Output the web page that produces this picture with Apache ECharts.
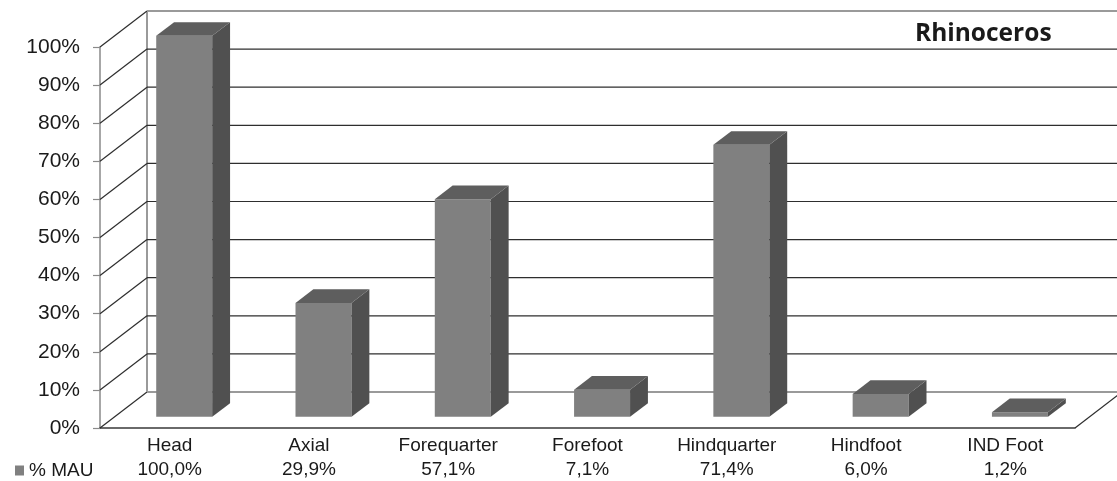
<!DOCTYPE html>
<html>
<head>
<meta charset="utf-8">
<style>html,body{margin:0;padding:0;background:#fff}#chart{width:1117px;height:481px}</style>
<script src="https://cdn.jsdelivr.net/npm/echarts@6/dist/echarts.min.js"></script>
</head>
<body>
<div id="chart"></div>
<script>
// Body-part representation for rhinoceros, drawn as a pseudo-3D column chart.
const categories = ['Head', 'Axial', 'Forequarter', 'Forefoot', 'Hindquarter', 'Hindfoot', 'IND Foot'];
const mauValues = [100.0, 29.9, 57.1, 7.1, 71.4, 6.0, 1.2];
const gridLevels = [0, 10, 20, 30, 40, 50, 60, 70, 80, 90, 100];

// Projection of the chart's depth direction, in pixels.
const depthX = 47;
const depthY = -36;
// Where a column sits along the depth direction (0 = front, 1 = back wall).
const columnFront = 0.31;
const columnBack = 0.69;
// Column face width as a share of one category band.
const columnShare = 0.402;

const formatPct = v => v.toFixed(1).replace('.', ',') + '%';

function renderWalls(params, api) {
  const level = api.value(1);
  const cs = params.coordSys;
  const y = api.coord([0, level])[1];
  const xL = cs.x, xR = cs.x + cs.width;
  const edge = level === 0 || level === 100;
  const backLine = { stroke: edge ? '#9a9a9a' : '#2e2e2e', lineWidth: edge ? 2 : 1.2 };
  const children = [
    { type: 'line', shape: { x1: xL, y1: y, x2: xL + depthX, y2: y + depthY },
      style: { stroke: '#2e2e2e', lineWidth: 1.2 } },
    { type: 'line', shape: { x1: xL + depthX, y1: y + depthY, x2: xR + depthX, y2: y + depthY },
      style: backLine }
  ];
  if (level === 0) {
    const top = api.coord([0, 100])[1];
    children.push(
      { type: 'line', shape: { x1: xL + depthX, y1: y + depthY, x2: xL + depthX, y2: top + depthY },
        style: { stroke: '#9a9a9a', lineWidth: 2 } },
      { type: 'line', shape: { x1: xR, y1: y, x2: xR + depthX, y2: y + depthY },
        style: { stroke: '#2e2e2e', lineWidth: 1.2 } }
    );
  }
  return { type: 'group', children };
}

function renderColumn(params, api) {
  const base = api.coord([api.value(0), 0]);
  const top = api.coord([api.value(0), api.value(1)]);
  const w = api.size([1, 0])[0] * columnShare;
  const fy = depthY * columnFront;
  const span = columnBack - columnFront;
  const dx = depthX * span, dy = depthY * span;
  const x0 = base[0] + depthX * columnFront - w / 2;
  const x1 = x0 + w;
  const yT = top[1] + fy, yB = base[1] + fy;
  return { type: 'group', children: [
    { type: 'polygon', shape: { points: [[x0, yT], [x1, yT], [x1, yB], [x0, yB]] },
      style: { fill: '#808080' } },
    { type: 'polygon', shape: { points: [[x1, yT], [x1 + dx, yT + dy], [x1 + dx, yB + dy], [x1, yB]] },
      style: { fill: '#505050' } },
    { type: 'polygon', shape: { points: [[x0, yT], [x0 + dx, yT + dy], [x1 + dx, yT + dy], [x1, yT]] },
      style: { fill: '#5e5e5e' } }
  ] };
}

const chart = echarts.init(document.getElementById('chart'), null, { renderer: 'canvas' });
chart.setOption({
  animation: false,
  backgroundColor: '#ffffff',
  textStyle: { fontFamily: '"Liberation Sans", Arial, sans-serif' },
  title: {
    text: 'Rhinoceros', left: 915, top: 22, padding: 0,
    textStyle: { fontFamily: '"Open Sans", sans-serif', fontWeight: 'bold', fontSize: 24.5, color: '#1a1a1a' }
  },
  legend: {
    data: [{ name: '% MAU', icon: 'rect' }],
    left: 15, top: 461, padding: 0, itemWidth: 9, itemHeight: 10, itemGap: 5,
    selectedMode: false,
    textStyle: { fontSize: 19, color: '#1a1a1a', fontFamily: '"Liberation Sans", Arial, sans-serif', padding: [0, 0, 0, 0] }
  },
  grid: { left: 100, right: 42, top: 47, bottom: 53, outerBoundsMode: 'none' },
  xAxis: {
    type: 'category',
    data: categories,
    axisLine: { lineStyle: { color: '#3a3a3a', width: 1.5 } },
    axisTick: { show: false },
    axisLabel: {
      margin: 6, fontSize: 19, color: '#1a1a1a', lineHeight: 24, interval: 0,
      formatter: (name, i) => name + '\n' + formatPct(mauValues[i])
    }
  },
  yAxis: {
    type: 'value', min: 0, max: 100, interval: 10,
    splitLine: { show: false },
    axisLine: { show: true, lineStyle: { color: '#8a8a8a', width: 1.5 } },
    axisTick: { show: true, length: 7, lineStyle: { color: '#8a8a8a', width: 1.2 } },
    axisLabel: { margin: 20, fontSize: 21, color: '#1a1a1a', formatter: v => v + '%' }
  },
  series: [
    { name: 'Walls', type: 'custom', silent: true, z: 1,
      data: gridLevels.map(v => [0, v]), encode: { x: 0, y: 1 }, renderItem: renderWalls },
    { name: '% MAU', type: 'custom', z: 2, itemStyle: { color: '#808080' },
      data: mauValues.map((v, i) => [i, v]), encode: { x: 0, y: 1 }, renderItem: renderColumn }
  ]
});
</script>
</body>
</html>
